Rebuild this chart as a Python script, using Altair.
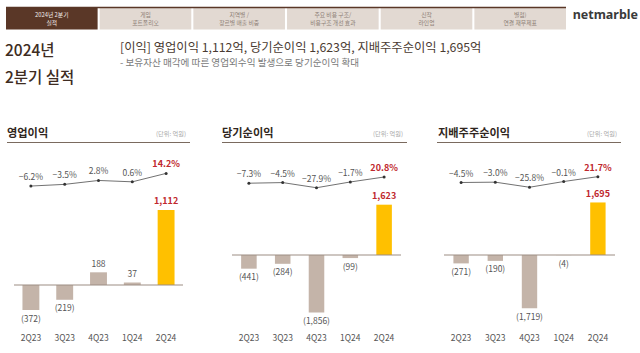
import altair as alt
import pandas as pd

FONT = "Noto Sans CJK KR"

# ---------------- data ----------------
quarters = ["2Q23", "3Q23", "4Q23", "1Q24", "2Q24"]
op_income = [-372, -219, 188, 37, 1112]
op_margin = [-6.2, -3.5, 2.8, 0.6, 14.2]
net_income = [-441, -284, -1856, -99, 1623]
net_margin = [-7.3, -4.5, -27.9, -1.7, 20.8]
ctrl_income = [-271, -190, -1719, -4, 1695]
ctrl_margin = [-4.5, -3.0, -25.8, -0.1, 21.7]

panel_titles = ["영업이익", "당기순이익", "지배주주순이익"]
unit_text = "(단위: 억원)"

tab_line1 = ["2024년 2분기", "게임", "지역별 /", "주요 비용 구조/", "신작", "별첨)"]
tab_line2 = ["실적", "포트폴리오", "장르별 매출 비중", "비용구조 개선 효과", "라인업", "연결 재무제표"]

head_title1 = "2024년"
head_title2 = "2분기 실적"
head_sub = "[이익] 영업이익 1,112억,  당기순이익 1,623억, 지배주주순이익 1,695억"
head_bullet = "- 보유자산 매각에 따른 영업외수익 발생으로 당기순이익 확대"
logo = "netmarble"

HL = "2Q24"
BAR = "#c4b4a9"
BAR_HL = "#ffc000"
RED = "#c0272d"
GRAY = "#555555"


def fmt_val(v):
    return f"({abs(v):,})" if v < 0 else f"{v:,}"


def fmt_pct(p):
    return (f"−{abs(p):.1f}%" if p < 0 else f"{p:.1f}%")


def one(**kw):
    return pd.DataFrame({k: [v] for k, v in kw.items()})


def panel(values, margins, title, xr, pin, ydom, yr, pr, ul, title_x):
    df = pd.DataFrame({
        "q": quarters,
        "v": values,
        "m": margins,
        "lbl": [fmt_val(v) for v in values],
        "plbl": [fmt_pct(p) for p in margins],
    })
    base = alt.Chart(df)
    xs = alt.Scale(type="band", domain=quarters, range=xr,
                   paddingInner=pin, paddingOuter=pin / 2)
    ys = alt.Scale(domain=ydom, range=yr, nice=False, zero=False)
    ps = alt.Scale(domain=[-30, 30], range=pr, nice=False, zero=False)
    X = alt.X("q:N", scale=xs, axis=None)
    Yv = alt.Y("v:Q", scale=ys, axis=None)
    Ym = alt.Y("m:Q", scale=ps, axis=None)

    layers = []
    layers.append(base.mark_bar().encode(
        x=X, y=Yv, y2=alt.datum(0),
        color=alt.condition(alt.datum.q == HL, alt.value(BAR_HL), alt.value(BAR)),
    ))
    layers.append(alt.Chart(one(z=0)).mark_rule(color="#9c8d83", strokeWidth=1).encode(
        y=alt.Y("z:Q", scale=ys, axis=None), x=alt.value(xr[0]), x2=alt.value(xr[1])
    ))
    layers.append(base.transform_filter("datum.v < 0").mark_text(
        dy=8.5, fontSize=8.5, color=GRAY, font=FONT, baseline="middle"
    ).encode(x=X, y=Yv, text="lbl:N"))
    layers.append(base.transform_filter(f"datum.v >= 0 && datum.q != '{HL}'").mark_text(
        dy=-8.5, fontSize=8.5, color=GRAY, font=FONT, baseline="middle"
    ).encode(x=X, y=Yv, text="lbl:N"))
    layers.append(base.transform_filter(f"datum.q == '{HL}'").mark_text(
        dy=-8.5, fontSize=9, color=RED, fontWeight="bold", font=FONT, baseline="middle"
    ).encode(x=X, y=Yv, text="lbl:N"))
    layers.append(base.mark_line(color="#4d4d4d", strokeWidth=0.8).encode(x=X, y=Ym))
    layers.append(base.mark_circle(size=9, color="#333333", opacity=1).encode(x=X, y=Ym))
    layers.append(base.transform_filter(f"datum.q != '{HL}'").mark_text(
        dy=-9, fontSize=8.5, color=GRAY, font=FONT, baseline="middle"
    ).encode(x=X, y=Ym, text="plbl:N"))
    layers.append(base.transform_filter(f"datum.q == '{HL}'").mark_text(
        dy=-9, fontSize=9, color=RED, fontWeight="bold", font=FONT, baseline="middle"
    ).encode(x=X, y=Ym, text="plbl:N"))
    layers.append(base.mark_text(fontSize=8.5, color=GRAY, font=FONT, baseline="middle").encode(
        x=X, y=alt.value(338), text="q:N"))
    # header of the panel
    layers.append(alt.Chart(one(t=title)).mark_text(
        fontSize=11.2, fontWeight="bold", color="#2f2620", font=FONT,
        align="left", baseline="middle"
    ).encode(x=alt.value(title_x), y=alt.value(133.5), text="t:N"))
    layers.append(alt.Chart(one(t=unit_text)).mark_text(
        fontSize=6.2, color="#a8a8a8", font=FONT, align="right", baseline="middle"
    ).encode(x=alt.value(ul[1] - 4), y=alt.value(134), text="t:N"))
    layers.append(alt.Chart(one(t=0)).mark_rule(color="#7a6a5e", strokeWidth=1.2).encode(
        x=alt.value(ul[0]), x2=alt.value(ul[1]), y=alt.value(142.5)))
    return layers


layers = []

# ---------------- navigation tabs ----------------
tabs = pd.DataFrame({"l1": tab_line1, "l2": tab_line2})
tabs["first"] = [i == 0 for i in range(len(tabs))]
tab_scale = alt.Scale(type="band", domain=tab_line1, range=[6, 566], paddingInner=0.022, paddingOuter=0)
TX = alt.X("l1:N", scale=tab_scale, axis=None)
tab_base = alt.Chart(tabs)
layers.append(tab_base.mark_rect().encode(
    x=TX, y=alt.value(8), y2=alt.value(29.5),
    color=alt.condition("datum.first", alt.value("#5a3727"), alt.value("#e2d9d2")),
))
layers.append(alt.Chart(one(t=0)).mark_rule(color="#5a3727", strokeWidth=1.6).encode(
    x=alt.value(6), x2=alt.value(566), y=alt.value(7.5)))
for col, yy in (("l1", 15), ("l2", 23)):
    layers.append(tab_base.mark_text(fontSize=5.8, font=FONT, baseline="middle").encode(
        x=TX, y=alt.value(yy), text=f"{col}:N",
        color=alt.condition("datum.first", alt.value("#f2ece8"), alt.value("#8d7f76")),
    ))
layers.append(alt.Chart(one(t=logo)).mark_text(
    fontSize=12.5, fontWeight="bold", font="Noto Sans", color="#3a3a3a",
    align="right", baseline="middle"
).encode(x=alt.value(638), y=alt.value(15), text="t:N"))

# ---------------- page header ----------------
layers.append(alt.Chart(one(t=head_title1)).mark_text(
    fontSize=15.5, font=FONT, color="#3e2c22", align="left", baseline="middle", fontWeight=500
).encode(x=alt.value(5), y=alt.value(51), text="t:N"))
layers.append(alt.Chart(one(t=head_title2)).mark_text(
    fontSize=15.5, font=FONT, color="#3e2c22", align="left", baseline="middle", fontWeight=500
).encode(x=alt.value(5), y=alt.value(78), text="t:N"))
layers.append(alt.Chart(one(t=head_sub)).mark_text(
    fontSize=12.3, font=FONT, color="#4a3b32", align="left", baseline="middle"
).encode(x=alt.value(120), y=alt.value(48), text="t:N"))
layers.append(alt.Chart(one(t=head_bullet)).mark_text(
    fontSize=9.6, font=FONT, color="#7a7a7a", align="left", baseline="middle"
).encode(x=alt.value(120), y=alt.value(62.5), text="t:N"))

# ---------------- panels ----------------
layers += panel(op_income, op_margin, panel_titles[0], [14, 183], 0.5,
                [-1000, 1200], [352.5, 204], [200.8, 163.6], [7, 190], 7)
layers += panel(net_income, net_margin, panel_titles[1], [232, 401], 0.54,
                [-2000, 2000], [317, 193], [188.2, 175.0], [222, 407], 222)
layers += panel(ctrl_income, ctrl_margin, panel_titles[2], [444, 615], 0.55,
                [-2000, 2000], [317, 193], [188.2, 174.8], [437, 621], 438)

chart = alt.layer(*layers).resolve_scale(
    x="independent", y="independent", color="independent"
).properties(
    width=640, height=353,
    autosize=alt.AutoSizeParams(type="none"),
    padding=0, background="white",
).configure_view(stroke=None)

chart.save("out.html", embed_options={"renderer": "svg", "actions": False})
